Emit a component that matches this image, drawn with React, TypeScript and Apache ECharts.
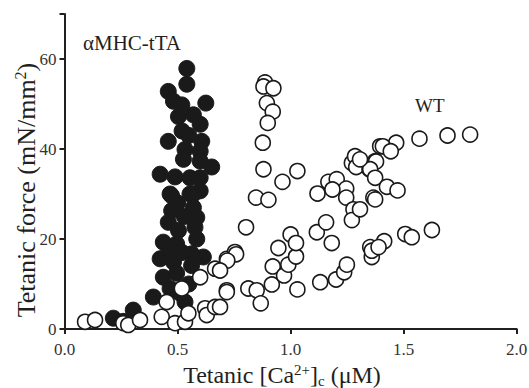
import React, { useEffect, useRef } from "react";
import * as echarts from "echarts";

const xTicks = [0, 0.5, 1.0, 1.5, 2.0];
const yTicks = [0, 20, 40, 60];

// αMHC-tTA (filled)
const tgX = [0.541,0.541,0.459,0.482,0.625,0.519,0.504,0.570,0.600,0.459,0.607,0.533,0.526,0.600,0.600,0.651,0.423,0.489,0.555,0.600,0.467,0.600,0.555,0.474,0.570,0.474,0.570,0.459,0.585,0.577,0.504,0.437,0.496,0.585,0.423,0.482,0.614,0.562,0.437,0.496,0.562,0.467,0.393,0.533,0.304,0.216,0.260,0.520,0.550,0.500,0.530,0.520,0.460,0.550,0.510];
const tgY = [57.9,54.4,52.8,50.6,50.2,49.8,47.2,47.6,45.5,41.7,41.7,39.9,37.7,39.5,37.3,36.0,34.4,33.8,33.6,33.6,30.0,30.7,30.0,29.6,30.0,26.3,27.0,23.7,24.8,22.6,21.9,19.3,18.9,20.0,15.6,14.9,16.0,16.7,11.5,12.4,14.1,9.0,7.1,6.0,4.2,2.4,1.7,44.0,43.0,28.0,25.0,17.0,18.0,10.0,8.0];

// WT (open)
const wtX = [0.091,0.135,0.260,0.282,0.334,0.430,0.489,0.533,0.548,0.452,0.519,0.600,0.622,0.629,0.666,0.666,0.718,0.754,0.718,
  0.887,0.880,0.924,0.895,0.921,0.899,0.877,0.880,1.030,0.964,0.847,0.902,1.119,1.167,1.204,1.246,1.246,1.271,1.285,1.290,1.349,1.374,1.396,1.366,
  0.803,0.759,0.720,0.688,0.718,0.688,0.813,0.850,0.868,0.917,0.921,0.971,0.990,1.024,0.946,1.000,1.024,1.030,1.116,1.157,1.182,1.131,1.201,1.237,1.249,1.278,1.271,1.185,
  1.570,1.694,1.794,1.467,1.408,1.443,1.378,1.352,1.374,1.307,1.426,1.473,1.374,1.307,1.625,1.507,1.536,1.414,1.352,1.359,1.359,1.389];
const wtY = [1.6,2.0,1.3,0.9,2.0,2.7,1.3,1.6,3.5,6.0,9.0,11.5,4.6,3.1,4.9,13.4,15.6,17.1,8.6,
  54.8,53.9,53.5,50.2,48.3,45.8,41.4,35.5,35.1,32.7,29.2,28.7,30.1,32.7,33.3,31.2,29.2,36.9,38.4,36.0,35.5,37.3,40.6,29.2,
  22.6,16.6,15.2,13.0,8.2,4.9,9.0,8.6,5.7,9.9,13.9,11.9,14.3,16.1,18.0,21.0,19.1,8.8,21.5,23.7,19.1,10.4,11.0,12.6,14.3,26.6,24.2,31.0,
  42.3,43.0,43.2,41.4,40.6,39.5,37.2,35.5,33.6,37.7,31.6,30.8,28.8,26.6,22.0,21.1,20.4,19.5,18.2,16.0,17.4,18.2];

const seriesNames = ["αMHC-tTA", "WT"];
const xTitle = "{a|Tetanic [Ca}{sup|2+}{a|]}{sub|c}{a| (μM)}";
const yTitle = "{a|Tetanic force (mN/mm}{sup|2}{a|)}";
const FONT = "'Liberation Serif', 'Times New Roman', serif";
const TXT = "#231f20";

export default function App() {
  const ref = useRef<HTMLDivElement>(null);
  useEffect(() => {
    if (!ref.current) return;
    const chart = echarts.init(ref.current, undefined, { renderer: "svg" });
    const tg = tgX.map((x, i) => [x, tgY[i]]);
    const wt = wtX.map((x, i) => [x, wtY[i]]);
    const richX = {
      a: { fontFamily: FONT, fontSize: 24, fill: TXT, color: TXT, lineHeight: 26 },
      sup: { fontFamily: FONT, fontSize: 15, fill: TXT, color: TXT, verticalAlign: "top", lineHeight: 26, padding: [0, 0, 10, 0] },
      sub: { fontFamily: FONT, fontSize: 15, fill: TXT, color: TXT, verticalAlign: "bottom", lineHeight: 26, padding: [8, 0, 0, 0] },
    };
    const richY = {
      a: { fontFamily: FONT, fontSize: 26, fill: TXT, color: TXT, lineHeight: 28 },
      sup: { fontFamily: FONT, fontSize: 16, fill: TXT, color: TXT, verticalAlign: "top", lineHeight: 28, padding: [0, 0, 11, 0] },
    };
    chart.setOption({
      animation: false,
      backgroundColor: "#fff",
      textStyle: { fontFamily: FONT },
      grid: { left: 64.5, right: 12.3, top: 14, bottom: 59, containLabel: false, outerBoundsMode: "none" },
      xAxis: {
        type: "value",
        min: 0,
        max: 2,
        interval: 0.5,
        axisLine: { lineStyle: { color: TXT, width: 2 } },
        axisTick: { show: true, inside: false, length: 5, lineStyle: { color: TXT, width: 2 } },
        splitLine: { show: false },
        axisLabel: {
          fontFamily: FONT,
          fontSize: 17,
          color: "#333",
          margin: 12,
          formatter: (v: number) => (xTicks.includes(v) ? v.toFixed(1) : ""),
        },
      },
      yAxis: {
        type: "value",
        min: 0,
        max: 70,
        interval: 20,
        axisLine: { show: true, lineStyle: { color: TXT, width: 2 } },
        axisTick: { show: true, inside: false, length: 5, lineStyle: { color: TXT, width: 2 } },
        splitLine: { show: false },
        axisLabel: {
          fontFamily: FONT,
          fontSize: 17,
          color: "#333",
          margin: 8,
          formatter: (v: number) => (yTicks.includes(v) ? String(v) : ""),
        },
      },
      series: [
        {
          name: seriesNames[0],
          type: "scatter",
          data: tg,
          symbol: "circle",
          symbolSize: 16,
          itemStyle: { color: "#1a1a1a", borderColor: "#1a1a1a", borderWidth: 1, opacity: 1 },
        },
        {
          name: seriesNames[1],
          type: "scatter",
          data: wt,
          symbol: "circle",
          symbolSize: 15,
          itemStyle: { color: "#ffffff", borderColor: "#1a1a1a", borderWidth: 1.6, opacity: 1 },
        },
      ],
      graphic: [
        { type: "text", left: 83, top: 32, z: 100, style: { text: seriesNames[0], fontFamily: FONT, fontSize: 21, fill: TXT } },
        { type: "text", left: 415, top: 96, z: 100, style: { text: seriesNames[1], fontFamily: FONT, fontSize: 19, fill: TXT } },
        { type: "text", x: 282, y: 375, z: 100, style: { text: xTitle, rich: richX, align: "center", verticalAlign: "middle" } },
        { type: "text", x: 26, y: 190, rotation: Math.PI / 2, z: 100, style: { text: yTitle, rich: richY, align: "center", verticalAlign: "middle" } },
      ],
    });
    return () => chart.dispose();
  }, []);
  return <div ref={ref} style={{ position: "absolute", left: 0, top: 0, width: 529, height: 388 }} />;
}
